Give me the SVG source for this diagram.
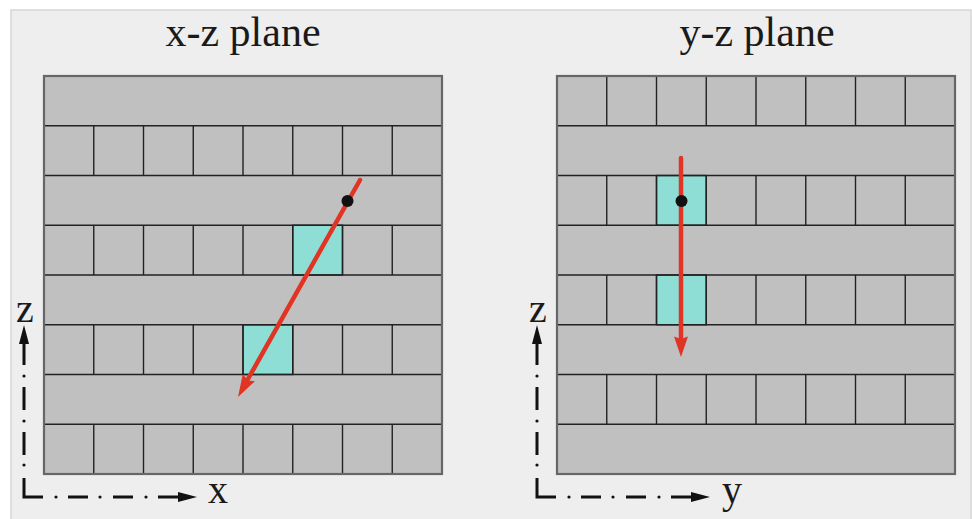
<svg xmlns="http://www.w3.org/2000/svg" width="972" height="519" viewBox="0 0 972 519">
<defs>
<style>
.title{font-family:"Liberation Serif","Times New Roman",serif;font-size:42px;fill:#1a1a1a;text-anchor:middle}
.axl{font-family:"Liberation Serif","Times New Roman",serif;font-size:40px;fill:#1a1a1a;text-anchor:middle}
.bg{fill:#c0c0c0}
.grid{fill:none;stroke:#222;stroke-width:1.4}
.outer{fill:none;stroke:#666;stroke-width:2.2}
.hit{fill:#8fded6;stroke:#222;stroke-width:1.4}
.ray{stroke:#e03424;stroke-width:4.5;fill:none;stroke-linecap:round}
.head{fill:#e03424}
.axis{stroke:#111;stroke-width:3;fill:none}
.dot{fill:#111}
</style>
</defs>
<rect x="11" y="10" width="960" height="520" fill="#eeeeee" stroke="#d6d6d6" stroke-width="1.5"/>
<g id="title-xz"><text class="title" x="243" y="46">x-z plane</text></g>
<g id="title-yz"><text class="title" x="757" y="46">y-z plane</text></g>
<g id="grid-xz">
<rect class="bg" x="44" y="76" width="398" height="398"/>
<rect class="hit" x="292.75" y="225.25" width="49.75" height="49.75"/>
<rect class="hit" x="243" y="324.75" width="49.75" height="49.75"/>
<path class="grid" d="M44 125.75H442M44 175.5H442M44 225.25H442M44 275H442M44 324.75H442M44 374.5H442M44 424.25H442
M93.75 125.75v49.75M143.5 125.75v49.75M193.25 125.75v49.75M243 125.75v49.75M292.75 125.75v49.75M342.5 125.75v49.75M392.25 125.75v49.75
M93.75 225.25v49.75M143.5 225.25v49.75M193.25 225.25v49.75M243 225.25v49.75M292.75 225.25v49.75M342.5 225.25v49.75M392.25 225.25v49.75
M93.75 324.75v49.75M143.5 324.75v49.75M193.25 324.75v49.75M243 324.75v49.75M292.75 324.75v49.75M342.5 324.75v49.75M392.25 324.75v49.75
M93.75 424.25v49.75M143.5 424.25v49.75M193.25 424.25v49.75M243 424.25v49.75M292.75 424.25v49.75M342.5 424.25v49.75M392.25 424.25v49.75"/>
<rect class="outer" x="44" y="76" width="398" height="398"/>
</g>
<g id="grid-yz">
<rect class="bg" x="557" y="76" width="398" height="398"/>
<rect class="hit" x="656.5" y="175.5" width="49.75" height="49.75"/>
<rect class="hit" x="656.5" y="275" width="49.75" height="49.75"/>
<path class="grid" d="M557 125.75H955M557 175.5H955M557 225.25H955M557 275H955M557 324.75H955M557 374.5H955M557 424.25H955
M606.75 76v49.75M656.5 76v49.75M706.25 76v49.75M756 76v49.75M805.75 76v49.75M855.5 76v49.75M905.25 76v49.75
M606.75 175.5v49.75M656.5 175.5v49.75M706.25 175.5v49.75M756 175.5v49.75M805.75 175.5v49.75M855.5 175.5v49.75M905.25 175.5v49.75
M606.75 275v49.75M656.5 275v49.75M706.25 275v49.75M756 275v49.75M805.75 275v49.75M855.5 275v49.75M905.25 275v49.75
M606.75 374.5v49.75M656.5 374.5v49.75M706.25 374.5v49.75M756 374.5v49.75M805.75 374.5v49.75M855.5 374.5v49.75M905.25 374.5v49.75"/>
<rect class="outer" x="557" y="76" width="398" height="398"/>
</g>
<g id="connectors">
<line class="ray" x1="360" y1="180" x2="248" y2="379"/>
<path class="head" d="M238 397L254.9 381.2L248.5 380.4L242.7 374.4Z"/>
<line class="ray" x1="681" y1="158" x2="681" y2="340"/>
<path class="head" d="M681 357L688 336.5L681 339L674 336.5Z"/>
</g>
<g id="point-xz"><circle class="dot" cx="347.5" cy="201" r="6"/></g>
<g id="point-yz"><circle class="dot" cx="681.5" cy="201" r="6"/></g>
<g id="axes-xz">
<path class="axis" d="M24 342V365M24 387V410M24 432V455M24 478V497H43M68 497H88M113 497H133M158 497H180"/>
<circle class="dot" cx="24" cy="376" r="1.6"/><circle class="dot" cx="24" cy="421" r="1.6"/><circle class="dot" cx="24" cy="465" r="1.6"/>
<circle class="dot" cx="56" cy="497" r="1.6"/><circle class="dot" cx="100" cy="497" r="1.6"/><circle class="dot" cx="146" cy="497" r="1.6"/>
<path class="dot" d="M24 325L29 344H19Z"/>
<path class="dot" d="M197 497L178 502V492Z"/>
<text class="axl" x="25" y="322">z</text>
<text class="axl" x="218" y="503">x</text>
</g>
<g id="axes-yz">
<path class="axis" d="M537 342V365M537 387V410M537 432V455M537 478V497H556M581 497H601M626 497H646M671 497H693"/>
<circle class="dot" cx="537" cy="376" r="1.6"/><circle class="dot" cx="537" cy="421" r="1.6"/><circle class="dot" cx="537" cy="465" r="1.6"/>
<circle class="dot" cx="569" cy="497" r="1.6"/><circle class="dot" cx="613" cy="497" r="1.6"/><circle class="dot" cx="659" cy="497" r="1.6"/>
<path class="dot" d="M537 325L542 344H532Z"/>
<path class="dot" d="M710 497L691 502V492Z"/>
<text class="axl" x="538" y="322">z</text>
<text class="axl" x="732" y="503">y</text>
</g>
</svg>
